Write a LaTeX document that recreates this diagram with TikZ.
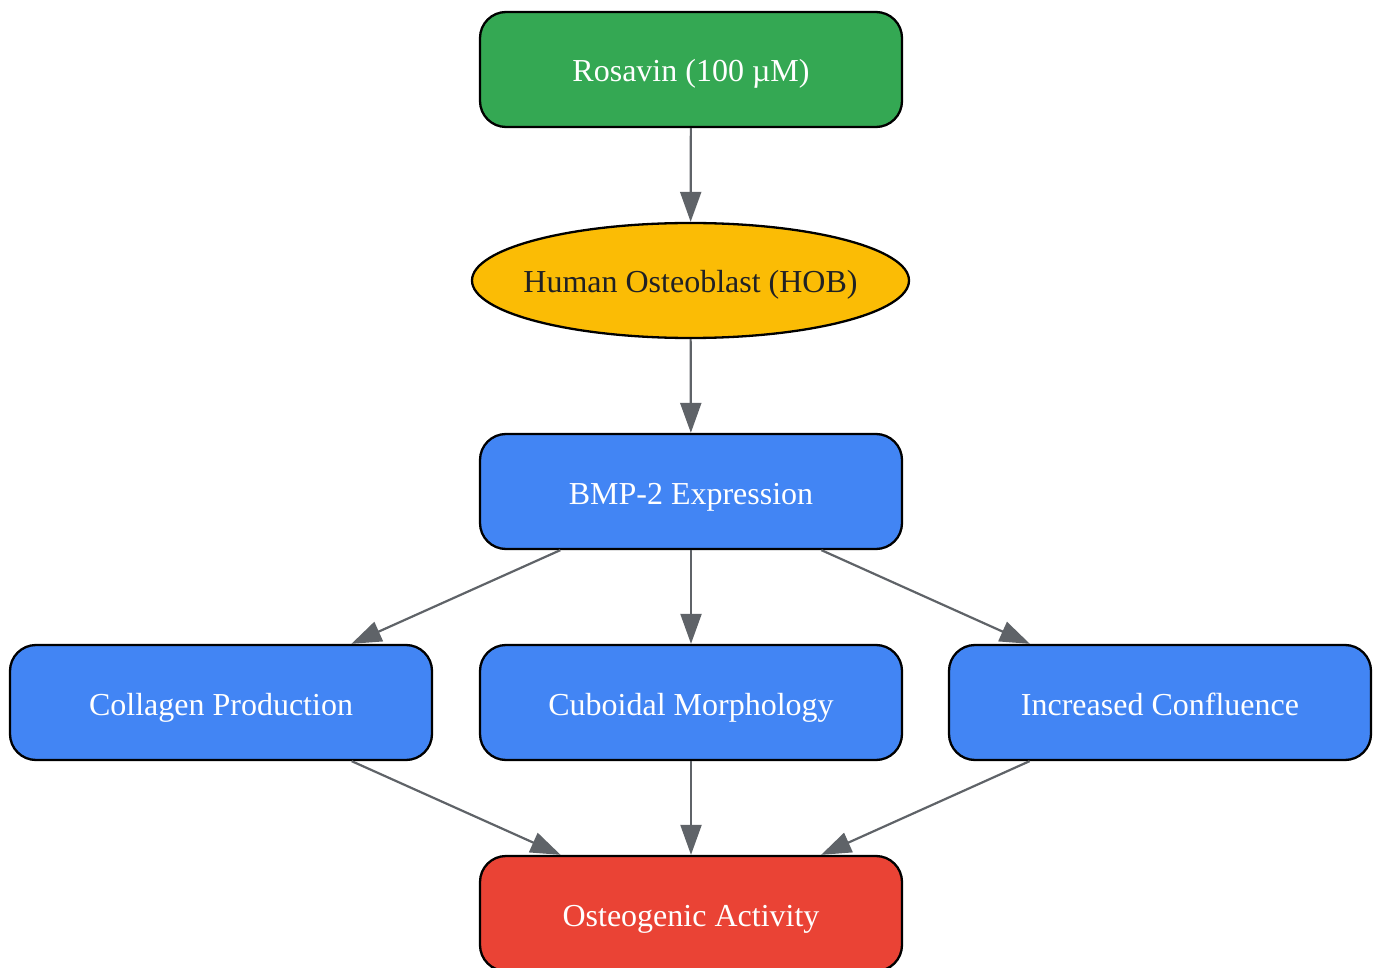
\documentclass[tikz,border=0pt]{standalone}
\usepackage{fontspec}
\setmainfont{Liberation Serif}
\usetikzlibrary{arrows.meta,shapes.geometric}
\definecolor{cgreen}{HTML}{34A853}
\definecolor{cyellow}{HTML}{FBBC05}
\definecolor{cblue}{HTML}{4285F4}
\definecolor{cred}{HTML}{EA4335}
\definecolor{cedge}{HTML}{5F6368}
\definecolor{cdark}{HTML}{202124}
\begin{document}
\begin{tikzpicture}[x=1pt,y=-1pt,
  txt/.style={font=\fontsize{32}{38}\selectfont,text height=32pt,text depth=7pt},
  box/.style={txt,draw=black,line width=2.3pt,rounded corners=26pt,minimum width=422pt,minimum height=115pt,
    inner sep=0pt,text=white},
  oval/.style={ellipse,draw=black,line width=2.3pt,minimum width=437pt,minimum height=115pt,inner sep=0pt,
    fill=cyellow},
  conn/.style={draw=cedge,line width=2.2pt,-{Triangle[length=30pt,width=21pt]}}]
\useasboundingbox (0,0) rectangle (1374,968);
\node[box,fill=cgreen] (ros) at (691,69.5) {Rosavin (100 µM)};
\node[oval,label={[txt,text=cdark,inner sep=0pt]center:Human Osteoblast (HOB)}] (hob) at (690.5,280.5) {};
\node[box,fill=cblue] (bmp) at (691,491.5) {BMP-2 Expression};
\node[box,fill=cblue] (col) at (221,702.5) {Collagen Production};
\node[box,fill=cblue] (cub) at (691,702.5) {Cuboidal Morphology};
\node[box,fill=cblue] (inc) at (1160,702.5) {Increased Confluence};
\node[box,fill=cred] (ost) at (691,913.5) {Osteogenic Activity};
\draw[conn] (ros) -- (hob);
\draw[conn] (hob) -- (bmp);
\draw[conn] (bmp) -- (col);
\draw[conn] (bmp) -- (cub);
\draw[conn] (bmp) -- (inc);
\draw[conn] (col) -- (ost);
\draw[conn] (cub) -- (ost);
\draw[conn] (inc) -- (ost);
\end{tikzpicture}
\end{document}
